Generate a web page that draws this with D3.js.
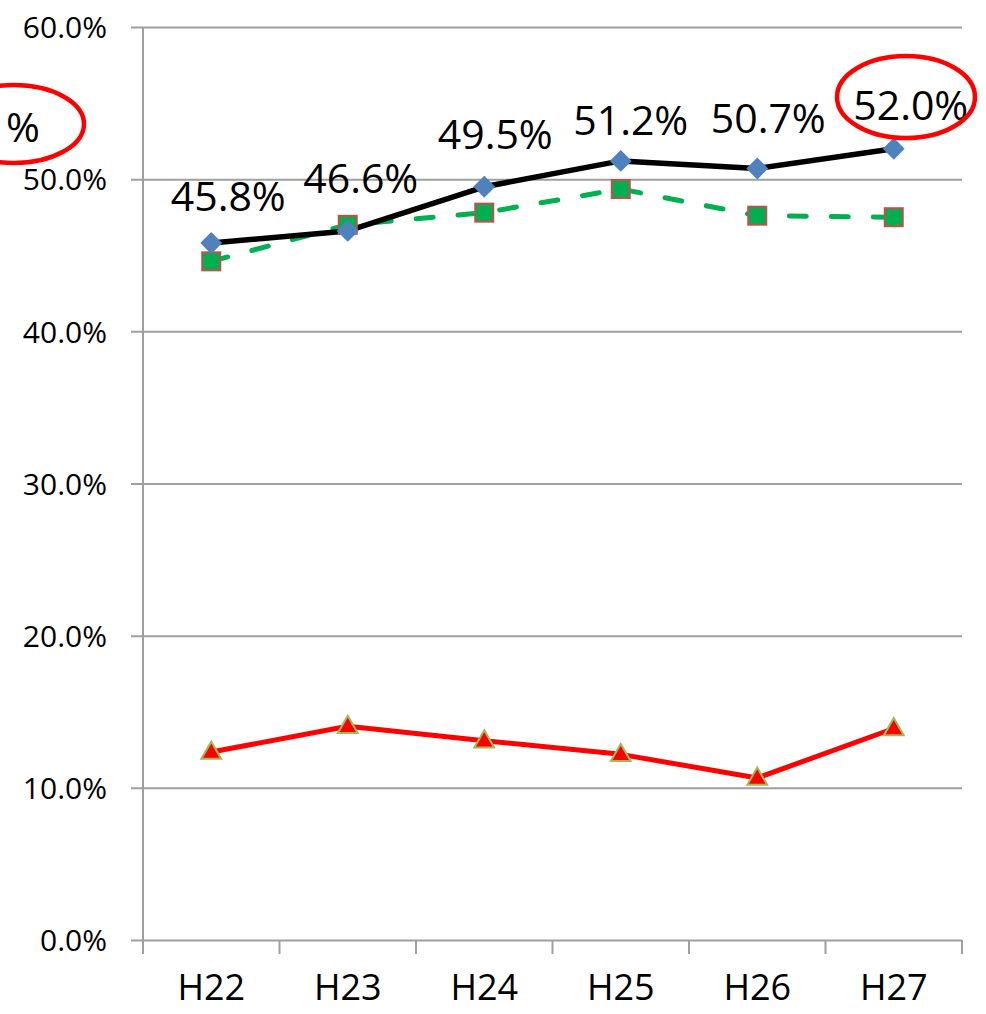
<!DOCTYPE html>
<html>
<head>
<meta charset="utf-8">
<script src="https://cdn.jsdelivr.net/npm/d3@7"></script>
<style>
html,body{margin:0;padding:0;background:#fff;}
svg{display:block;font-family:"Open Sans",sans-serif;}
</style>
</head>
<body>
<svg id="chart" width="986" height="1014"></svg>
<script>
// ---- data ----
const categories = ["H22","H23","H24","H25","H26","H27"];
const seriesBlack = [0.458, 0.466, 0.495, 0.512, 0.507, 0.520];
const seriesGreen = [0.446, 0.470, 0.478, 0.4935, 0.476, 0.475];
const seriesRed   = [0.1235, 0.1405, 0.131, 0.122, 0.1065, 0.139];
const yTicks = [0, 0.1, 0.2, 0.3, 0.4, 0.5, 0.6];
const labelTexts = ["45.8%","46.6%","49.5%","51.2%","50.7%","52.0%"];
// manual label shifts (px) from the marker, as placed in the original
const labelDx = [17, 13, 11, 10, 11, 17];
const labelDy = [-32, -38, -38, -26, -36, -29];

const svg = d3.select("#chart");
const pLeft = 143, pRight = 962, pTop = 27, pBottom = 940;
const gray = "#9f9f9f";

const x = d3.scaleBand().domain(categories).range([pLeft, pRight]);
const y = d3.scaleLinear().domain([0, 0.6]).range([pBottom, pTop]);
const cx = c => x(c) + x.bandwidth() / 2;
const fmt = d3.format(".1%");

// y axis with gridlines
const yAxis = svg.append("g").attr("transform", `translate(${pLeft},0)`)
  .call(d3.axisLeft(y).tickValues(yTicks).tickFormat(fmt)
        .tickSizeInner(-(pRight - pLeft)).tickSizeOuter(0).tickPadding(36));
yAxis.select(".domain").remove();
yAxis.selectAll(".tick line").attr("x1", -12).attr("x2", pRight - pLeft)
  .attr("stroke", gray).attr("stroke-width", 2);
yAxis.selectAll(".tick text").attr("font-size", 30).attr("fill", "#000")
  .attr("font-family", "Open Sans").attr("dy", "0.36em");

// vertical axis line
svg.append("line").attr("x1", pLeft).attr("x2", pLeft)
  .attr("y1", y(0.6)).attr("y2", pBottom + 14)
  .attr("stroke", gray).attr("stroke-width", 2);

// x axis boundary ticks
const bounds = categories.map(c => x(c)).concat([x.range()[1]]);
svg.append("g").selectAll("line").data(bounds).join("line")
  .attr("x1", d => d).attr("x2", d => d)
  .attr("y1", pBottom).attr("y2", pBottom + 14)
  .attr("stroke", gray).attr("stroke-width", 2);

// x axis labels
const xAxis = svg.append("g").attr("transform", `translate(0,${pBottom})`)
  .call(d3.axisBottom(x).tickSize(0).tickPadding(34));
xAxis.select(".domain").remove();
xAxis.selectAll(".tick text").attr("font-size", 36).attr("fill", "#000")
  .attr("font-family", "Open Sans");

// lines
const line = d3.line().x((d, i) => cx(categories[i])).y(d => y(d));

svg.append("path").datum(seriesRed).attr("d", line)
  .attr("fill", "none").attr("stroke", "#ff0000").attr("stroke-width", 5)
  .attr("stroke-linejoin", "round");
svg.append("path").datum(seriesGreen).attr("d", line)
  .attr("fill", "none").attr("stroke", "#00b050").attr("stroke-width", 5)
  .attr("stroke-dasharray", "17 25").attr("stroke-linecap", "round");
svg.append("path").datum(seriesBlack).attr("d", line)
  .attr("fill", "none").attr("stroke", "#000").attr("stroke-width", 5.5)
  .attr("stroke-linejoin", "round");

// markers
const sym = (type, size) => d3.symbol().type(type).size(size)();
svg.append("g").selectAll("path").data(seriesRed).join("path")
  .attr("transform", (d, i) => `translate(${cx(categories[i])},${y(d)+1})`)
  .attr("d", sym(d3.symbolTriangle, 170))
  .attr("fill", "#ff0000").attr("stroke", "#9bbb59").attr("stroke-width", 2);
svg.append("g").selectAll("rect").data(seriesGreen).join("rect")
  .attr("x", (d, i) => cx(categories[i]) - 9).attr("y", d => y(d) - 9)
  .attr("width", 18).attr("height", 18)
  .attr("fill", "#00b050").attr("stroke", "#c0504d").attr("stroke-width", 2);
svg.append("g").selectAll("path").data(seriesBlack).join("path")
  .attr("transform", (d, i) => `translate(${cx(categories[i])},${y(d)}) rotate(45)`)
  .attr("d", d3.symbol().type(d3.symbolSquare).size(240)())
  .attr("fill", "#4f81bd");

// data labels
svg.append("g").selectAll("text").data(seriesBlack).join("text")
  .attr("x", (d, i) => cx(categories[i]) + labelDx[i])
  .attr("y", (d, i) => y(d) + labelDy[i])
  .attr("text-anchor", "middle").attr("font-size", 41).attr("fill", "#000")
  .text((d, i) => labelTexts[i]);

// annotation ellipses
svg.append("ellipse").attr("cx", 906).attr("cy", 97).attr("rx", 69).attr("ry", 41)
  .attr("fill", "none").attr("stroke", "#ff0000").attr("stroke-width", 4.5);
svg.append("ellipse").attr("cx", 14).attr("cy", 124).attr("rx", 70).attr("ry", 39)
  .attr("fill", "none").attr("stroke", "#ff0000").attr("stroke-width", 4.5);
svg.append("text").attr("x", 40).attr("y", 142).attr("text-anchor", "end")
  .attr("font-size", 41).attr("fill", "#000").text("%");
</script>
</body>
</html>
